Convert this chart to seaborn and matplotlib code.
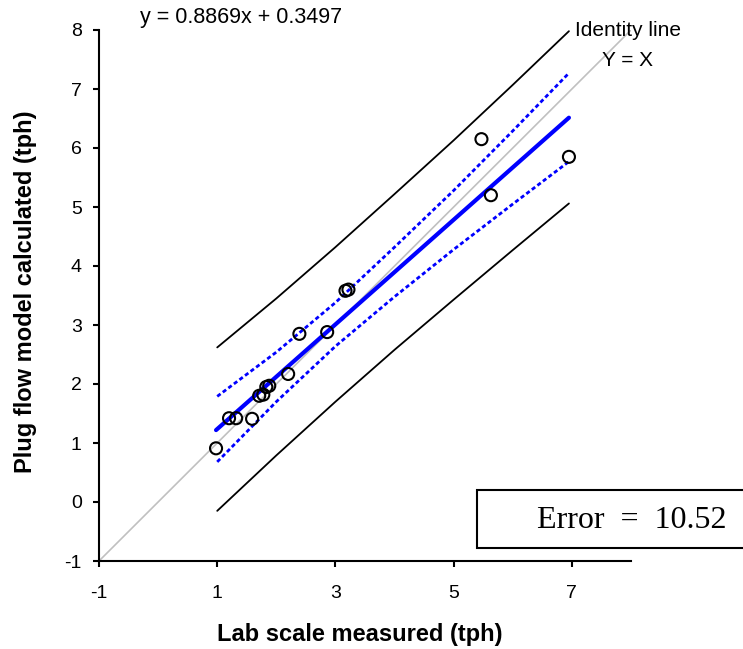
import numpy as np
import pandas as pd
import matplotlib
matplotlib.use("Agg")
import matplotlib.pyplot as plt
from matplotlib.patches import Rectangle
import seaborn as sns

# ---- data ----
lab_measured = [0.98, 1.20, 1.32, 1.59, 1.71, 1.78, 1.83, 1.88, 2.20, 2.39, 2.86, 3.17, 3.22, 5.47, 5.63, 6.95]
model_calc   = [0.91, 1.42, 1.42, 1.41, 1.80, 1.82, 1.95, 1.97, 2.17, 2.85, 2.88, 3.58, 3.60, 6.15, 5.20, 5.85]

slope, intercept = 0.8869, 0.3497
fit_x = [0.98, 6.95]

band_x   = [1.0, 2.0, 3.0, 4.0, 5.0, 6.0, 6.95]
ci_upper = [1.79, 2.54, 3.38, 4.32, 5.28, 6.29, 7.27]
ci_lower = [0.68, 1.70, 2.64, 3.48, 4.28, 5.05, 5.77]
pi_upper = [2.62, 3.45, 4.32, 5.22, 6.13, 7.07, 7.98]
pi_lower = [-0.15, 0.79, 1.70, 2.58, 3.43, 4.27, 5.06]

identity_x = [-1, 8]
x_ticks = [-1, 1, 3, 5, 7]
y_ticks = [-1, 0, 1, 2, 3, 4, 5, 6, 7, 8]
error_value = "10.52"

# ---- style ----
sns.set_style("ticks")
plt.rcParams['font.family'] = ['Liberation Sans', 'DejaVu Sans']
plt.rcParams['text.color'] = 'black'

fig = plt.figure(figsize=(7.43, 6.49), dpi=100)
ax = fig.add_axes([99/743, 1 - 561/649, (631 - 99)/743, (561 - 30)/649])

# identity line
sns.lineplot(x=identity_x, y=identity_x, ax=ax, color="#c0c0c0", linewidth=1.2, zorder=1)

# prediction band
sns.lineplot(x=band_x, y=pi_upper, ax=ax, color="black", linewidth=1.3, zorder=2)
sns.lineplot(x=band_x, y=pi_lower, ax=ax, color="black", linewidth=1.3, zorder=2)

# confidence band
sns.lineplot(x=band_x, y=ci_upper, ax=ax, color="#0000ff", linewidth=2.0,
             linestyle=(0, (1.5, 1.0)), zorder=3)
sns.lineplot(x=band_x, y=ci_lower, ax=ax, color="#0000ff", linewidth=2.0,
             linestyle=(0, (1.5, 1.0)), zorder=3)

# regression line
fit_y = [slope * v + intercept for v in fit_x]
sns.lineplot(x=fit_x, y=fit_y, ax=ax, color="#0000ff", linewidth=3.0, zorder=4)

# points
sns.scatterplot(x=lab_measured, y=model_calc, ax=ax, marker="o", s=75,
                facecolor="none", edgecolor="black", linewidth=1.5, zorder=5)

ax.set_xlim(-1, 8)
ax.set_ylim(-1, 8)
ax.set_xticks(x_ticks)
ax.set_yticks(y_ticks)
ax.set_xticklabels([str(t) for t in x_ticks])
ax.set_yticklabels([str(t) for t in y_ticks])
ax.tick_params(axis="both", direction="out", length=4.5, width=1.5, labelsize=14,
               colors="black", labelcolor="black")
ax.tick_params(axis="y", pad=8)
ax.tick_params(axis="x", pad=13)
for side in ["left", "bottom"]:
    ax.spines[side].set_linewidth(1.5)
    ax.spines[side].set_color("black")
sns.despine(ax=ax)

fig.text(360/743, 1 - 634/649, "Lab scale measured (tph)", ha="center", va="center",
         fontsize=17, fontweight="bold", color="black")
fig.text(26/743, 1 - 292/649, "Plug flow model calculated (tph)", ha="center", va="center",
         rotation=90, fontsize=17, fontweight="bold", color="black")

fig.text(140/743, 1 - 17/649, f"y = {slope}x + {intercept}", ha="left", va="center",
         fontsize=15.5, color="black")
fig.text(575/743, 1 - 30/649, "Identity line", ha="left", va="center", fontsize=15, color="black")
fig.text(602/743, 1 - 60/649, "Y = X", ha="left", va="center", fontsize=15, color="black")

# error box
rect = Rectangle((477/743, 1 - 548/649), 0.40, 58/649, transform=fig.transFigure,
                 facecolor="white", edgecolor="black", linewidth=1.5, clip_on=False)
fig.patches.append(rect)
fig.text(537/743, 1 - 520/649, f"Error  =  {error_value}", ha="left", va="center",
         fontsize=23, family="Liberation Serif", color="black")

fig.savefig("out.png", dpi=100)
